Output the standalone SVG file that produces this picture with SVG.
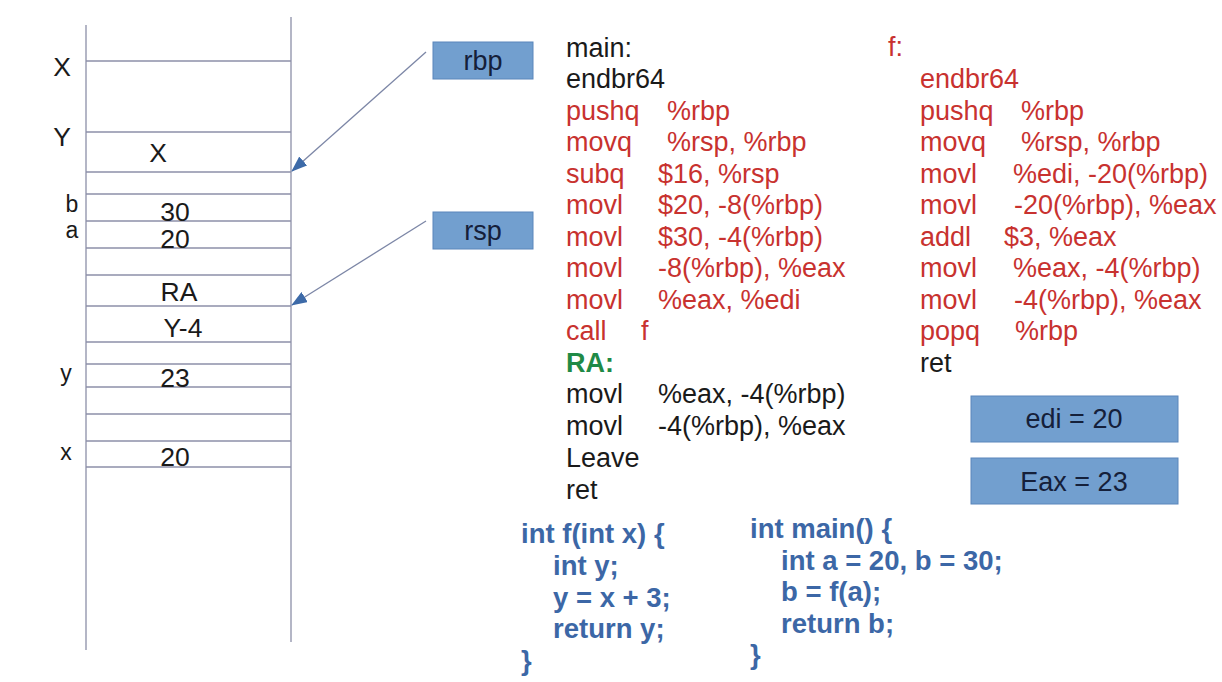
<svg xmlns="http://www.w3.org/2000/svg" width="1222" height="682" viewBox="0 0 1222 682">
<style>
  .grid{stroke:#8c8fa8;stroke-width:1.3;fill:none}
  .lbl{font-family:"Liberation Sans",Arial,sans-serif;font-size:26.5px;fill:#1a1a1a;text-anchor:middle}
  .sm{font-size:23px}
  .box{fill:#729fcf;stroke:#5a86bb;stroke-width:1}
  .btxt{font-family:"Liberation Sans",Arial,sans-serif;font-size:27px;fill:#15203a;text-anchor:middle}
  .asm{font-family:"Liberation Sans",Arial,sans-serif;font-size:27px}
  .blk{fill:#1a1a1a}
  .red{fill:#c8322f}
  .grn{fill:#1f8a46;font-weight:bold}
  .c{font-family:"Liberation Sans",Arial,sans-serif;font-size:27.5px;font-weight:bold;fill:#3c67a6}
  .conn{stroke:#7c86a6;stroke-width:1.3;fill:none}
</style>
<defs>
  <marker id="ah" viewBox="0 0 16 12" refX="15" refY="6" markerWidth="16" markerHeight="12" markerUnits="userSpaceOnUse" orient="auto">
    <path d="M0,0 L16,6 L0,12 Z" fill="#3d6aa8"/>
  </marker>
</defs>
<rect width="1222" height="682" fill="#ffffff"/>

<g id="stack">
  <line class="grid" x1="86" y1="25" x2="86" y2="650"/>
  <line class="grid" x1="291" y1="17" x2="291" y2="642"/>
  <line class="grid" x1="86" y1="61" x2="291" y2="61"/>
  <line class="grid" x1="86" y1="132" x2="291" y2="132"/>
  <line class="grid" x1="86" y1="172" x2="291" y2="172"/>
  <line class="grid" x1="86" y1="194" x2="291" y2="194"/>
  <line class="grid" x1="86" y1="221" x2="291" y2="221"/>
  <line class="grid" x1="86" y1="248" x2="291" y2="248"/>
  <line class="grid" x1="86" y1="275" x2="291" y2="275"/>
  <line class="grid" x1="86" y1="306" x2="291" y2="306"/>
  <line class="grid" x1="86" y1="342" x2="291" y2="342"/>
  <line class="grid" x1="86" y1="364" x2="291" y2="364"/>
  <line class="grid" x1="86" y1="387" x2="291" y2="387"/>
  <line class="grid" x1="86" y1="414" x2="291" y2="414"/>
  <line class="grid" x1="86" y1="441" x2="291" y2="441"/>
  <line class="grid" x1="86" y1="467" x2="291" y2="467"/>
  <text class="lbl" x="62" y="76">X</text>
  <text class="lbl" x="62" y="146">Y</text>
  <text class="lbl" x="158" y="162">X</text>
  <text class="lbl sm" x="72" y="212">b</text>
  <text class="lbl sm" x="72" y="238">a</text>
  <text class="lbl" x="175" y="221">30</text>
  <text class="lbl" x="175" y="248">20</text>
  <text class="lbl" x="179" y="301">RA</text>
  <text class="lbl" x="183" y="337">Y-4</text>
  <text class="lbl sm" x="66" y="381">y</text>
  <text class="lbl" x="175" y="387">23</text>
  <text class="lbl sm" x="66" y="460">x</text>
  <text class="lbl" x="175" y="466">20</text>
</g>

<g id="rbp">
  <rect class="box" x="433" y="42" width="100" height="37"/>
  <text class="btxt" x="483" y="70">rbp</text>
</g>
<g id="rsp">
  <rect class="box" x="433" y="212" width="100" height="37"/>
  <text class="btxt" x="483" y="240">rsp</text>
</g>

<g id="connectors">
  <line class="conn" x1="426" y1="52" x2="292" y2="171" marker-end="url(#ah)"/>
  <line class="conn" x1="426" y1="221" x2="292" y2="305" marker-end="url(#ah)"/>
</g>

<g id="main-asm" class="asm">
  <text class="blk" x="566" y="56.5">main:</text>
  <text class="blk" x="566" y="88">endbr64</text>
  <text class="red" y="119.5"><tspan x="566">pushq</tspan><tspan x="667">%rbp</tspan></text>
  <text class="red" y="151"><tspan x="566">movq</tspan><tspan x="667">%rsp, %rbp</tspan></text>
  <text class="red" y="182.5"><tspan x="566">subq</tspan><tspan x="658">$16, %rsp</tspan></text>
  <text class="red" y="214"><tspan x="566">movl</tspan><tspan x="658">$20, -8(%rbp)</tspan></text>
  <text class="red" y="245.5"><tspan x="566">movl</tspan><tspan x="658">$30, -4(%rbp)</tspan></text>
  <text class="red" y="277"><tspan x="566">movl</tspan><tspan x="658">-8(%rbp), %eax</tspan></text>
  <text class="red" y="308.5"><tspan x="566">movl</tspan><tspan x="658">%eax, %edi</tspan></text>
  <text class="red" y="340"><tspan x="566">call</tspan><tspan x="641">f</tspan></text>
  <text class="grn" x="566" y="371.5">RA:</text>
  <text class="blk" y="403"><tspan x="566">movl</tspan><tspan x="658">%eax, -4(%rbp)</tspan></text>
  <text class="blk" y="434.5"><tspan x="566">movl</tspan><tspan x="658">-4(%rbp), %eax</tspan></text>
  <text class="blk" x="566" y="467">Leave</text>
  <text class="blk" x="566" y="498.5">ret</text>
</g>

<g id="f-asm" class="asm">
  <text class="red" x="888" y="56">f:</text>
  <text class="red" x="920" y="88">endbr64</text>
  <text class="red" y="119.5"><tspan x="920">pushq</tspan><tspan x="1021">%rbp</tspan></text>
  <text class="red" y="151"><tspan x="920">movq</tspan><tspan x="1021">%rsp, %rbp</tspan></text>
  <text class="red" y="182.5"><tspan x="920">movl</tspan><tspan x="1013">%edi, -20(%rbp)</tspan></text>
  <text class="red" y="214"><tspan x="920">movl</tspan><tspan x="1014">-20(%rbp), %eax</tspan></text>
  <text class="red" y="245.5"><tspan x="920">addl</tspan><tspan x="1004">$3, %eax</tspan></text>
  <text class="red" y="277"><tspan x="920">movl</tspan><tspan x="1013">%eax, -4(%rbp)</tspan></text>
  <text class="red" y="308.5"><tspan x="920">movl</tspan><tspan x="1014">-4(%rbp), %eax</tspan></text>
  <text class="red" y="340"><tspan x="920">popq</tspan><tspan x="1015">%rbp</tspan></text>
  <text class="blk" x="920" y="371.5">ret</text>
</g>

<g id="edi">
  <rect class="box" x="971" y="396" width="207" height="46"/>
  <text class="btxt" x="1074" y="428">edi = 20</text>
</g>
<g id="eax">
  <rect class="box" x="971" y="458" width="207" height="46"/>
  <text class="btxt" x="1074" y="491">Eax = 23</text>
</g>

<g id="c-f" class="c">
  <text x="521" y="543">int f(int x) {</text>
  <text x="553" y="575">int y;</text>
  <text x="553" y="606.5">y = x + 3;</text>
  <text x="553" y="638">return y;</text>
  <text x="521" y="670">}</text>
</g>

<g id="c-main" class="c">
  <text x="750" y="538">int main() {</text>
  <text x="781" y="569.5">int a = 20, b = 30;</text>
  <text x="781" y="601">b = f(a);</text>
  <text x="781" y="632.5">return b;</text>
  <text x="750" y="664">}</text>
</g>
</svg>
